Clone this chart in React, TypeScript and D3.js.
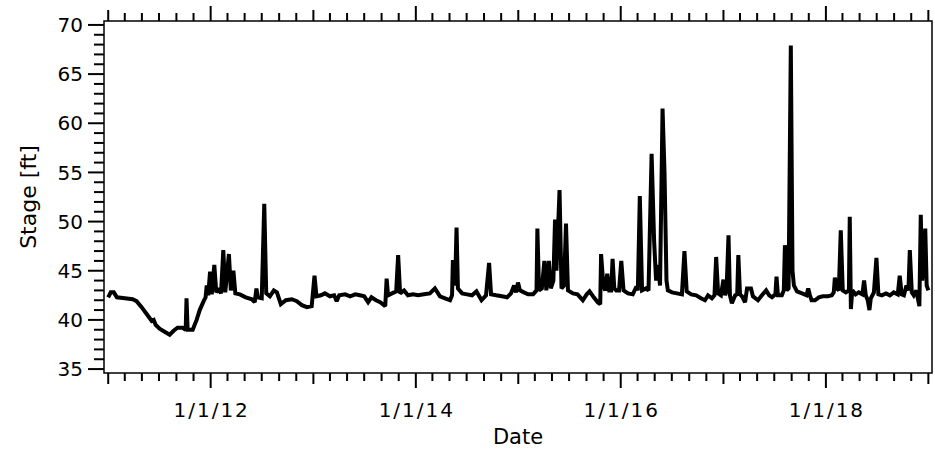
import React from 'react';
import * as d3 from 'd3';

// stage readings (ft)
const dates = [
  '2011-01-01', '2011-01-10', '2011-01-21', '2011-02-01', '2011-03-01', '2011-03-29', '2011-04-12', '2011-04-30',
  '2011-05-18', '2011-06-05', '2011-06-12', '2011-06-19', '2011-07-03', '2011-07-21', '2011-08-08', '2011-08-22',
  '2011-09-05', '2011-09-23', '2011-10-04', '2011-10-07', '2011-10-11', '2011-10-29', '2011-11-12', '2011-11-23',
  '2011-12-07', '2011-12-14', '2011-12-18', '2011-12-23', '2011-12-30', '2012-01-05', '2012-01-14', '2012-01-21',
  '2012-01-30', '2012-02-07', '2012-02-15', '2012-02-22', '2012-03-06', '2012-03-13', '2012-03-22', '2012-03-29',
  '2012-04-14', '2012-05-05', '2012-05-27', '2012-06-06', '2012-06-12', '2012-06-17', '2012-07-01', '2012-07-10',
  '2012-07-17', '2012-07-30', '2012-08-13', '2012-08-24', '2012-09-07', '2012-09-25', '2012-10-16', '2012-11-03',
  '2012-11-21', '2012-12-09', '2012-12-26', '2013-01-05', '2013-01-12', '2013-01-28', '2013-02-11', '2013-03-01',
  '2013-03-16', '2013-03-25', '2013-04-03', '2013-04-24', '2013-05-12', '2013-05-30', '2013-06-16', '2013-07-01',
  '2013-07-15', '2013-07-27', '2013-08-12', '2013-08-27', '2013-09-14', '2013-09-19', '2013-09-24', '2013-10-08',
  '2013-10-23', '2013-10-30', '2013-11-06', '2013-11-20', '2013-12-04', '2013-12-22', '2014-01-09', '2014-01-30',
  '2014-02-20', '2014-03-10', '2014-03-28', '2014-04-15', '2014-05-03', '2014-05-10', '2014-05-13', '2014-05-21',
  '2014-05-26', '2014-05-31', '2014-06-15', '2014-07-02', '2014-07-20', '2014-08-05', '2014-08-23', '2014-09-08',
  '2014-09-19', '2014-09-26', '2014-10-14', '2014-11-04', '2014-11-22', '2014-12-06', '2014-12-17', '2014-12-24',
  '2014-12-31', '2015-01-07', '2015-01-21', '2015-02-05', '2015-02-23', '2015-03-07', '2015-03-10', '2015-03-16',
  '2015-03-26', '2015-04-04', '2015-04-11', '2015-04-20', '2015-04-27', '2015-05-06', '2015-05-12', '2015-05-17',
  '2015-05-28', '2015-06-04', '2015-06-13', '2015-06-20', '2015-06-27', '2015-07-15', '2015-07-31', '2015-08-19',
  '2015-09-02', '2015-09-12', '2015-09-27', '2015-10-11', '2015-10-20', '2015-10-23', '2015-10-31', '2015-11-07',
  '2015-11-14', '2015-11-21', '2015-11-28', '2015-12-03', '2015-12-09', '2015-12-16', '2015-12-26', '2016-01-03',
  '2016-01-11', '2016-01-27', '2016-02-13', '2016-02-26', '2016-03-02', '2016-03-09', '2016-03-17', '2016-03-31',
  '2016-04-09', '2016-04-20', '2016-04-29', '2016-05-06', '2016-05-13', '2016-05-20', '2016-05-29', '2016-06-05',
  '2016-06-12', '2016-06-17', '2016-07-02', '2016-07-19', '2016-08-06', '2016-08-15', '2016-08-23', '2016-09-08',
  '2016-09-26', '2016-10-13', '2016-10-27', '2016-11-07', '2016-11-21', '2016-11-30', '2016-12-06', '2016-12-13',
  '2016-12-23', '2017-01-01', '2017-01-07', '2017-01-12', '2017-01-19', '2017-01-24', '2017-01-31', '2017-02-12',
  '2017-02-19', '2017-02-23', '2017-03-01', '2017-03-08', '2017-03-19', '2017-03-26', '2017-04-09', '2017-04-16',
  '2017-05-04', '2017-05-18', '2017-06-02', '2017-06-13', '2017-06-23', '2017-07-05', '2017-07-09', '2017-07-14',
  '2017-07-28', '2017-08-04', '2017-08-08', '2017-08-14', '2017-08-21', '2017-08-29', '2017-09-04', '2017-09-09',
  '2017-09-20', '2017-10-08', '2017-10-24', '2017-10-30', '2017-11-05', '2017-11-11', '2017-11-23', '2017-12-07',
  '2017-12-21', '2018-01-08', '2018-01-22', '2018-01-29', '2018-02-02', '2018-02-09', '2018-02-16', '2018-02-23',
  '2018-03-02', '2018-03-13', '2018-03-24', '2018-03-27', '2018-03-31', '2018-04-05', '2018-04-17', '2018-04-28',
  '2018-05-11', '2018-05-17', '2018-05-23', '2018-05-30', '2018-06-05', '2018-06-10', '2018-06-21', '2018-06-30',
  '2018-07-07', '2018-07-19', '2018-08-03', '2018-08-17', '2018-08-31', '2018-09-14', '2018-09-21', '2018-09-28',
  '2018-10-06', '2018-10-15', '2018-10-22', '2018-10-27', '2018-11-03', '2018-11-10', '2018-11-19', '2018-11-30',
  '2018-12-05', '2018-12-10', '2018-12-16', '2018-12-21', '2018-12-26', '2019-01-01',
];

const stage = [
  42.3, 42.8, 42.8, 42.3, 42.2, 42.1, 41.9, 41.3,
  40.6, 39.9, 40.0, 39.5, 39.1, 38.8, 38.5, 38.9,
  39.2, 39.2, 39.0, 42.2, 39.0, 39.0, 40.0, 41.0,
  41.9, 42.3, 43.5, 42.5, 44.9, 42.6, 45.6, 42.8,
  43.2, 42.7, 47.1, 42.8, 46.7, 43.0, 45.0, 42.7,
  42.6, 42.3, 42.1, 41.8, 43.2, 42.3, 42.2, 51.8,
  42.7, 42.4, 43.0, 42.8, 41.6, 42.0, 42.1, 41.9,
  41.5, 41.3, 41.4, 44.5, 42.4, 42.5, 42.7, 42.4,
  42.5, 41.9, 42.5, 42.6, 42.4, 42.6, 42.5, 42.4,
  41.8, 42.3, 42.0, 41.8, 41.4, 44.2, 42.5, 42.7,
  42.9, 46.6, 42.7, 43.0, 42.5, 42.6, 42.5, 42.6,
  42.7, 43.2, 42.4, 42.2, 42.0, 42.5, 46.1, 43.5,
  49.4, 43.2, 42.7, 42.6, 42.5, 42.9, 42.0, 42.5,
  45.8, 42.6, 42.5, 42.4, 42.3, 42.7, 43.5, 42.8,
  43.8, 43.0, 42.8, 42.6, 42.6, 43.0, 49.3, 43.0,
  43.2, 46.0, 43.0, 46.0, 43.2, 44.0, 50.2, 45.0,
  53.2, 43.2, 43.5, 49.8, 43.0, 42.7, 42.6, 42.0,
  42.6, 42.9, 42.3, 41.8, 41.6, 46.7, 43.5, 43.0,
  44.7, 43.0, 43.0, 46.2, 43.2, 43.0, 43.0, 46.0,
  43.0, 42.7, 42.6, 43.4, 43.0, 52.6, 43.0, 43.2,
  43.0, 56.9, 48.0, 44.0, 45.6, 43.5, 61.5, 55.0,
  44.0, 43.0, 42.8, 42.7, 42.6, 47.0, 42.9, 42.6,
  42.5, 42.2, 42.0, 42.5, 42.2, 42.5, 46.4, 42.7,
  42.5, 44.1, 42.5, 43.0, 48.6, 42.5, 41.7, 42.5,
  42.6, 46.6, 42.6, 42.4, 41.8, 43.2, 43.2, 42.4,
  42.0, 42.5, 43.0, 42.5, 42.3, 42.6, 44.4, 42.5,
  42.5, 43.0, 47.6, 43.0, 43.2, 67.9, 45.0, 43.5,
  42.9, 42.7, 42.5, 43.2, 42.5, 42.0, 42.0, 42.3,
  42.4, 42.4, 42.5, 42.8, 44.3, 43.2, 43.0, 49.1,
  43.0, 42.8, 43.0, 50.5, 41.1, 43.0, 42.6, 42.8,
  42.6, 44.0, 42.5, 42.0, 41.0, 42.2, 42.8, 46.3,
  42.6, 42.5, 42.7, 42.5, 42.8, 42.6, 44.5, 42.6,
  42.5, 43.5, 43.0, 47.1, 42.8, 42.5, 43.0, 41.4,
  50.7, 44.0, 45.5, 49.3, 43.5, 43.0,
];

const yLabelTicks = [35, 40, 45, 50, 55, 60, 65, 70];

const W = 935;
const H = 450;
const left = 104;
const right = 932;
const top = 21;
const bottom = 373;
const font = '"DejaVu Sans", Verdana, sans-serif';

const parse = d3.timeParse('%Y-%m-%d');

export default function App() {
  const data = dates.map((d, i) => ({ t: parse(d) as Date, v: stage[i] }));

  const x = d3.scaleTime()
    .domain([new Date(2010, 11, 17), new Date(2019, 0, 14)])
    .range([left, right]);
  const y = d3.scaleLinear().domain([34.6, 70.4]).range([bottom, top]);

  const line = d3.line<{ t: Date; v: number }>()
    .x(d => x(d.t))
    .y(d => y(d.v));

  const xTicks = x.ticks(d3.timeMonth.every(2) as d3.TimeInterval);
  const yTicks = d3.range(35, 71, 1);

  // even-year Januaries get the long labelled tick, odd years a medium one
  const tickLen = (d: Date) => {
    if (d.getMonth() !== 0) return 8;
    return d.getFullYear() % 2 === 0 ? 15 : 11;
  };

  return (
    <svg width={W} height={H} style={{ position: 'absolute', left: 0, top: 0, background: '#fff' }}>
      <path d={line(data) || ''} fill="none" stroke="#000" strokeWidth={4}
        strokeLinejoin="miter" strokeMiterlimit={2} />

      <rect x={left} y={top} width={right - left} height={bottom - top}
        fill="none" stroke="#000" strokeWidth={1.5} />

      <g stroke="#000" strokeWidth={2}>
        {xTicks.map(d => (
          <g key={+d}>
            <line x1={x(d)} x2={x(d)} y1={bottom} y2={bottom + tickLen(d)} />
            <line x1={x(d)} x2={x(d)} y1={top} y2={top - tickLen(d)} />
          </g>
        ))}
        {yTicks.map(v => (
          <line key={v} x1={left} x2={left - (v % 5 === 0 ? 16 : 10)} y1={y(v)} y2={y(v)} />
        ))}
      </g>

      <g fontFamily={font} fontSize={20} fill="#000">
        {xTicks.filter(d => d.getMonth() === 0 && d.getFullYear() % 2 === 0).map(d => (
          <text key={+d} x={x(d) + 1} y={417} textAnchor="middle" letterSpacing={2}>
            {d3.timeFormat('%-m/%-d/%y')(d)}
          </text>
        ))}
        {yLabelTicks.map(v => (
          <text key={v} x={83} y={y(v)} dy="0.36em" textAnchor="end">{v}</text>
        ))}
      </g>

      <text x={(left + right) / 2} y={444} textAnchor="middle" fontFamily={font} fontSize={21}>Date</text>
      <text transform={`translate(36,${(top + bottom) / 2}) rotate(-90)`} textAnchor="middle"
        fontFamily={font} fontSize={22}>Stage [ft]</text>
    </svg>
  );
}
